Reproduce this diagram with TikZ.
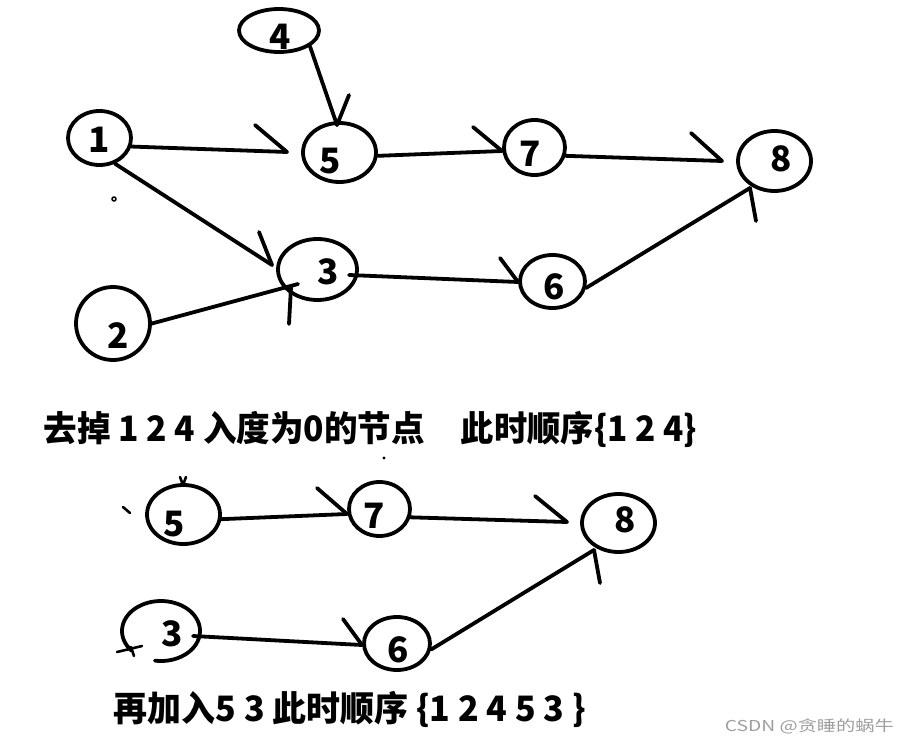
\documentclass[tikz,border=0pt]{standalone}
\usepackage{fontspec}
\newfontfamily\cjk{Noto Sans CJK SC}
\usetikzlibrary{shapes.geometric}
\begin{document}
\begin{tikzpicture}[x=1pt,y=-1pt, line width=3.8pt, line cap=round, line join=round,
  ell/.style={draw, ellipse, inner sep=0pt},
  num/.style={inner sep=0pt, font=\cjk\bfseries\fontsize{35}{35}\selectfont},
  txt/.style={inner sep=0pt, anchor=base west, font=\cjk\bfseries\fontsize{35}{35}\selectfont},
  wm/.style={inner sep=0pt, anchor=base west, text=black!38, font=\cjk\fontsize{15}{15}\selectfont}]
\useasboundingbox[fill=white] (0,0) rectangle (908,744);

% ---------- top graph ----------
\node[ell, minimum width=80pt, minimum height=43pt] (n4) at (279,30.5) {};
\node[ell, minimum width=63pt, minimum height=54pt] (n1) at (99.5,138) {};
\node[ell, minimum width=73pt, minimum height=59pt] (n5) at (339.5,152.5) {};
\node[ell, minimum width=79pt, minimum height=61pt] (n3) at (317.5,269.5) {};
\node[ell, minimum width=74pt, minimum height=73pt] (n2) at (113,323.5) {};
\node[ell, minimum width=61pt, minimum height=55pt] (n7) at (534.5,147.5) {};
\node[ell, minimum width=73pt, minimum height=60pt] (n8) at (774.5,161) {};
\node[ell, minimum width=65pt, minimum height=53pt] (n6) at (552.5,281.5) {};

\node[num] (t4) at (280,37) {4};
\node[num] (t1) at (99,140) {1};
\node[num] (t5) at (330,161) {5};
\node[num] (t3) at (328,272) {3};
\node[num] (t2) at (118,336) {2};
\node[num] (t7) at (530,154) {7};
\node[num] (t8) at (781,159) {8};
\node[num] (t6) at (554,287) {6};

% tips and barbs
\coordinate (k15) at (287,152); \coordinate (h15) at (255,125);
\coordinate (k45) at (337,125); \coordinate (h45) at (349,95);
\coordinate (k13) at (272,265); \coordinate (h13) at (259,232);
\coordinate (k23) at (298,284); \coordinate (h23) at (289,324); \coordinate (j23) at (291,287);
\coordinate (k57) at (502,151); \coordinate (h57) at (473,127);
\coordinate (k78) at (722,161); \coordinate (h78) at (691,133);
\coordinate (s36) at (349,275);
\coordinate (k36) at (518,282); \coordinate (h36) at (500,258);
\coordinate (k68) at (750,188); \coordinate (h68) at (756,221);

\draw (n1.-15) -- (k15); \draw (h15) -- (k15);
\draw (n4.-27) -- (k45); \draw (h45) -- (k45);
\draw (n1.-59) -- (k13); \draw (h13) -- (k13);
\draw (n2.east) -- (k23); \draw (h23) -- (j23);
\draw (n5.-5) -- (k57); \draw (h57) -- (k57);
\draw (n7.-15) -- (k78); \draw (h78) -- (k78);
\draw (s36) -- (k36); \draw (h36) -- (k36);
\draw (n6.-11) -- (k68); \draw (h68) -- (k68);

% stray dot
\draw[line width=1.6pt] (114,199) circle[radius=2];

% ---------- texts ----------
\node[txt] (l1a) at (42,441) {\resizebox{381pt}{\height}{去掉 1 2 4 入度为0的节点}};
\node[txt] (l1b) at (459,441) {\resizebox{236pt}{\height}{此时顺序\{1 2 4\}}};
\node[txt] (l2) at (112,721) {\resizebox{472pt}{\height}{再加入5 3 此时顺序 \{1 2 4 5 3 \}}};
\node[wm] (wmk) at (723,731) {\resizebox{169pt}{\height}{CSDN @贪睡的蜗牛}};

% ---------- bottom graph ----------
\node[ell, minimum width=73pt, minimum height=59pt] (b5) at (183.5,514.5) {};
\node[ell, minimum width=61pt, minimum height=54pt] (b7) at (379.5,509) {};
\node[ell, minimum width=73pt, minimum height=58pt] (b8) at (618.5,523) {};
\node[ell, minimum width=66pt, minimum height=53pt] (b6) at (397,643.5) {};
\coordinate (b3c) at (161,631);
\draw ([shift={(99:39 and 30)}]b3c) arc[start angle=99, end angle=-221, x radius=39, y radius=30];

\node[num] (u5) at (174,524) {5};
\node[num] (u7) at (374,516) {7};
\node[num] (u8) at (625,520) {8};
\node[num] (u3) at (172,634) {3};
\node[num] (u6) at (398,650) {6};

\coordinate (q57) at (347,514); \coordinate (g57) at (317,488);
\coordinate (q78) at (567,522); \coordinate (g78) at (535,496);
\coordinate (r36) at (193,636);
\coordinate (q36) at (362,645); \coordinate (g36) at (343,619);
\coordinate (q68) at (594,550); \coordinate (g68) at (600,583);

\draw (b5.-7) -- (q57); \draw (g57) -- (q57);
\draw (b7.-15) -- (q78); \draw (g78) -- (q78);
\draw (r36) -- (q36); \draw (g36) -- (q36);
\draw (b6.-10) -- (q68); \draw (g68) -- (q68);

% small marks
\draw[line width=2.6pt] (180,477) -- (183,485) -- (186,477);
\draw[line width=2.6pt] (123,507) -- (130,513);
\draw[line width=2.6pt] (117,652) -- (142,646);
\draw[line width=2.6pt] (131,647) -- (134,656);
\fill (384,458) circle[radius=1.6];
\end{tikzpicture}
\end{document}
